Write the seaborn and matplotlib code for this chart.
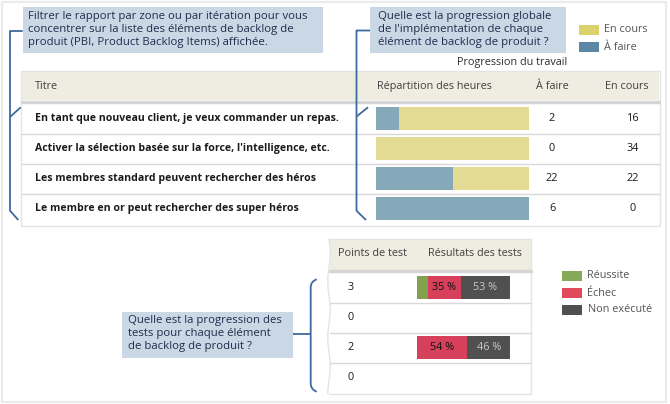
import numpy as np
import pandas as pd
import matplotlib.pyplot as plt
import seaborn as sns
from matplotlib.patches import Rectangle, PathPatch
from matplotlib.path import Path

# Données : progression du travail
titres = [
    "En tant que nouveau client, je veux commander un repas.",
    "Activer la sélection basée sur la force, l'intelligence, etc.",
    "Les membres standard peuvent rechercher des héros",
    "Le membre en or peut rechercher des super héros",
]
a_faire = [2, 0, 22, 6]
en_cours = [16, 34, 22, 0]
repartition_a_faire = [15, 0, 50, 100]

# Données : tests
points_de_test = [3, 0, 2, 0]
reussite = [12, 0, 0, 0]
echec = [35, 0, 54, 0]
non_execute = [53, 0, 46, 0]

# Textes
callout_filtre = ["Filtrer le rapport par zone ou par itération pour vous",
                  "concentrer sur la liste des éléments de backlog de",
                  "produit (PBI, Product Backlog Items) affichée."]
callout_travail = ["Quelle est la progression globale",
                   "de l'implémentation de chaque",
                   "élément de backlog de produit ?"]
callout_tests = ["Quelle est la progression des",
                 "tests pour chaque élément",
                 "de backlog de produit ?"]

# Couleurs
JAUNE = "#E3DB94"
BLEU = "#86A9BA"
JAUNE_LEG = "#DCD26C"
BLEU_LEG = "#5B86A4"
VERT = "#83A24E"
ROUGE = "#D6405A"
GRIS = "#505050"
BEIGE = "#EFEDE2"
CALLOUT = "#CAD8E6"
TRAIT = "#3D6A9E"
TXT_CALLOUT = "#1F2D4D"

sns.set_style("white")
plt.rcParams["font.family"] = ["Open Sans", "DejaVu Sans"]

W, H = 670, 404
fig = plt.figure(figsize=(W / 100, H / 100), dpi=100)
ax = fig.add_axes([0, 0, 1, 1])
ax.set_xlim(0, W)
ax.set_ylim(H, 0)
ax.axis("off")


def px_axes(x0, y0, x1, y1):
    return fig.add_axes([x0 / W, 1 - y1 / H, (x1 - x0) / W, (y1 - y0) / H])


def rect(x0, y0, x1, y1, **kw):
    ax.add_patch(Rectangle((x0, y0), x1 - x0, y1 - y0, **kw))


def ligne(xs, ys, **kw):
    kw.setdefault("color", TRAIT)
    kw.setdefault("lw", 1.3)
    ax.plot(xs, ys, solid_capstyle="butt", zorder=6, **kw)


# cadre général
rect(1.5, 2, 666, 402, fill=False, ec="#EBEBEB", lw=1.6)

# ---- tableau progression du travail ----
rows_y = [118.5, 148.5, 178.5, 208.5]
rect(21, 71, 659.5, 226, fc="white", ec="#E4E4E4", lw=1)
rect(21.5, 72, 659, 100, fc=BEIGE, ec="none")
ax.plot([21.5, 659], [101.5, 101.5], color="#D5D5D5", lw=2.5)
for y in [133.5, 163.5, 193.5]:
    ax.plot([21.5, 659], [y, y], color="#D9D9D9", lw=1)

fs = 7.8
ax.text(512, 63, "Progression du travail", ha="center", va="center", fontsize=fs, color="#2E2E2E")
ax.text(35, 86.5, "Titre", ha="left", va="center", fontsize=fs, color="#404040")
ax.text(377, 86.5, "Répartition des heures", ha="left", va="center", fontsize=fs, color="#404040")
ax.text(552, 86.5, "À faire", ha="center", va="center", fontsize=fs, color="#404040")
ax.text(626.5, 86.5, "En cours", ha="center", va="center", fontsize=fs, color="#404040")
for y, t, a, e in zip(rows_y, titres, a_faire, en_cours):
    ax.text(35, y, t, ha="left", va="center", fontsize=7.6, fontweight="bold", color="#1A1A1A")
    ax.text(552, y, str(a), ha="center", va="center", fontsize=fs, color="#1A1A1A")
    ax.text(633, y, str(e), ha="center", va="center", fontsize=fs, color="#1A1A1A")

df_travail = pd.DataFrame({
    "titre": titres,
    "total": [100 if a + e > 0 else 0 for a, e in zip(a_faire, en_cours)],
    "a_faire": repartition_a_faire,
})
axw = px_axes(376, 103.5, 529, 223.5)
sns.barplot(data=df_travail, x="total", y="titre", orient="h", color=JAUNE, saturation=1,
            width=0.77, errorbar=None, linewidth=0, ax=axw)
sns.barplot(data=df_travail, x="a_faire", y="titre", orient="h", color=BLEU, saturation=1,
            width=0.77, errorbar=None, linewidth=0, ax=axw)
axw.set_xlim(0, 100)
axw.set_ylim(3.5, -0.5)
axw.axis("off")

# légende travail
rect(579, 25, 599, 35, fc=JAUNE_LEG, ec="none")
rect(579, 42, 599, 52, fc=BLEU_LEG, ec="none")
ax.text(604, 30, "En cours", ha="left", va="center", fontsize=fs, color="#555555")
ax.text(604, 47, "À faire", ha="left", va="center", fontsize=fs, color="#555555")

# ---- tableau tests ----
test_y = [287.5, 317.5, 347.5, 377.5]
rect(329, 239, 531, 394, fc="white", ec="none")
ax.plot([329, 531, 531, 329], [239, 239, 394, 394], color="#E4E4E4", lw=1)
yy = np.linspace(239, 394, 80)
ax.plot(329 + 1.2 * np.sin((yy - 239) / 9.0), yy, color="#E4E4E4", lw=1)
rect(330, 240, 531, 270, fc=BEIGE, ec="none")
ax.plot([330, 531], [271, 271], color="#D5D5D5", lw=2.5)
for y in [302.5, 332.5, 362.5]:
    ax.plot([330, 531], [y, y], color="#D9D9D9", lw=1)
ax.text(338, 254, "Points de test", ha="left", va="center", fontsize=fs, color="#404040")
ax.text(475, 254, "Résultats des tests", ha="center", va="center", fontsize=fs, color="#404040")
for y, p in zip(test_y, points_de_test):
    ax.text(347.5, y, str(p), ha="left", va="center", fontsize=fs, color="#1A1A1A")

df_tests = pd.DataFrame({
    "ligne": ["1", "2", "3", "4"],
    "total": [r + e + n for r, e, n in zip(reussite, echec, non_execute)],
    "rouge": [r + e for r, e in zip(reussite, echec)],
    "vert": reussite,
})
axt = px_axes(416.7, 272.5, 510.3, 392.5)
for col, c in [("total", GRIS), ("rouge", ROUGE), ("vert", VERT)]:
    sns.barplot(data=df_tests, x=col, y="ligne", orient="h", color=c, saturation=1,
                width=0.77, errorbar=None, linewidth=0, ax=axt)
for i in range(4):
    if echec[i] > 0:
        axt.text(reussite[i] + echec[i] / 2, i, f"{echec[i]} %", ha="center", va="center",
                 fontsize=fs, color="#111111")
    if non_execute[i] > 0:
        axt.text(reussite[i] + echec[i] + non_execute[i] / 2, i, f"{non_execute[i]} %",
                 ha="center", va="center", fontsize=fs, color="#C8C8C8")
axt.set_xlim(0, 100)
axt.set_ylim(3.5, -0.5)
axt.axis("off")

# légende tests
for y, c, t in [(276, "#86A957", "Réussite"), (293, "#E04A5C", "Échec"), (309.5, "#4F4F4F", "Non exécuté")]:
    rect(562, y - 5, 582, y + 5, fc=c, ec="none")
    ax.text(587.5, y, t, ha="left", va="center", fontsize=fs, color="#555555")

# ---- bulles ----
fs_c = 8.2
rect(22.7, 7.3, 323, 52.7, fc=CALLOUT, ec="none")
for y, t in zip([16.7, 29.5, 42.3], callout_filtre):
    ax.text(28.5, y, t, ha="left", va="center", fontsize=fs_c, color=TXT_CALLOUT)
rect(370, 7.3, 566, 52.7, fc=CALLOUT, ec="none")
for y, t in zip([16.7, 29.5, 42.3], callout_travail):
    ax.text(377.5, y, t, ha="left", va="center", fontsize=fs_c, color=TXT_CALLOUT)
rect(122, 311.7, 293.3, 357.7, fc=CALLOUT, ec="none")
for y, t in zip([320.7, 333.5, 346.7], callout_tests):
    ax.text(127.5, y, t, ha="left", va="center", fontsize=fs_c, color=TXT_CALLOUT)

# accolades
ligne([22.7, 10, 10, 18.3], [31, 31, 210.7, 220])
ligne([10, 20.7], [117, 107.3])
ligne([370, 356.5, 356.5, 366], [30.5, 30.5, 210.7, 220])
ligne([356.5, 368], [116.5, 107.3])
brace = Path([(316.7, 279.3), (310.7, 281.5), (310.7, 287.5), (310.7, 383.3),
              (310.7, 389.5), (316.7, 391.7)],
             [Path.MOVETO, Path.CURVE3, Path.CURVE3, Path.LINETO, Path.CURVE3, Path.CURVE3])
ax.add_patch(PathPatch(brace, fill=False, ec=TRAIT, lw=1.3, zorder=6))
ligne([293.3, 310.7], [334, 334])

fig.savefig("out.png", dpi=100)
